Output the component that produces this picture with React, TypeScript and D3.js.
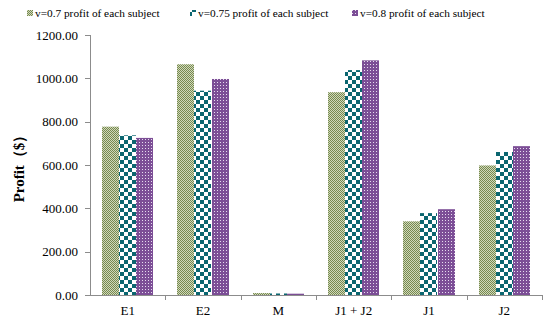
import React, { useEffect, useRef } from 'react';
import * as d3 from 'd3';

const categories = ['E1', 'E2', 'M', 'J1 + J2', 'J1', 'J2'];
const seriesNames = [
	'v=0.7 profit of each subject',
	'v=0.75 profit of each subject',
	'v=0.8 profit of each subject',
];
const v07 = [777, 1065, 9, 936, 340, 598];
const v075 = [737, 943, 7, 1038, 378, 660];
const v08 = [725, 997, 6, 1083, 396, 687];
const yTicks = [0, 200, 400, 600, 800, 1000, 1200];

const W = 550;
const H = 322;

export default function App() {
	const ref = useRef<SVGSVGElement>(null);

	useEffect(() => {
		const svg = d3.select(ref.current);
		svg.selectAll('*').remove();

		const font = 'Liberation Serif, Times New Roman, Times, serif';
		const left = 90, right = 542, top = 35, bottom = 295;

		const defs = svg.append('defs');

		// green fine checker
		const pg = defs.append('pattern').attr('id', 'pg').attr('patternUnits', 'userSpaceOnUse')
			.attr('width', 2).attr('height', 2);
		pg.append('rect').attr('width', 2).attr('height', 2).attr('fill', '#d0d8bb');
		pg.append('rect').attr('width', 1).attr('height', 1).attr('fill', '#77894f');
		pg.append('rect').attr('x', 1).attr('y', 1).attr('width', 1).attr('height', 1).attr('fill', '#77894f');

		// teal large checker
		const pt = defs.append('pattern').attr('id', 'pt').attr('patternUnits', 'userSpaceOnUse')
			.attr('width', 8).attr('height', 8);
		pt.append('rect').attr('width', 8).attr('height', 8).attr('fill', '#ffffff');
		pt.append('rect').attr('width', 4).attr('height', 4).attr('fill', '#0b6670');
		pt.append('rect').attr('x', 4).attr('y', 4).attr('width', 4).attr('height', 4).attr('fill', '#0b6670');

		// purple with white dots
		const pp = defs.append('pattern').attr('id', 'pp').attr('patternUnits', 'userSpaceOnUse')
			.attr('width', 3).attr('height', 3);
		pp.append('rect').attr('width', 3).attr('height', 3).attr('fill', '#7c4e96');
		pp.append('rect').attr('x', 1).attr('y', 1).attr('width', 1).attr('height', 1).attr('fill', '#e6dcef');

		const fills = ['url(#pg)', 'url(#pt)', 'url(#pp)'];
		const series = [v07, v075, v08];

		const x = d3.scaleBand().domain(categories).range([left, right]).paddingInner(0).paddingOuter(0);
		const inner = d3.scaleBand().domain(['0', '1', '2']).range([0, x.bandwidth()]).paddingInner(0).paddingOuter(0.7);
		const y = d3.scaleLinear().domain([0, 1200]).range([bottom, top]);

		// bars
		series.forEach((vals, si) => {
			svg.append('g')
				.selectAll('rect')
				.data(vals)
				.enter()
				.append('rect')
				.attr('x', (d, i) => Math.round((x(categories[i]) as number) + (inner(String(si)) as number)))
				.attr('y', d => y(d))
				.attr('width', Math.round(inner.bandwidth()))
				.attr('height', d => bottom - y(d))
				.attr('fill', fills[si]);
		});

		// y axis
		const axisColor = '#8c8c8c';
		svg.append('line').attr('x1', left + 0.5).attr('x2', left + 0.5).attr('y1', top).attr('y2', bottom)
			.attr('stroke', axisColor).attr('stroke-width', 1);
		svg.append('g').selectAll('line').data(yTicks).enter().append('line')
			.attr('x1', left - 5).attr('x2', left).attr('y1', d => Math.round(y(d)) + 0.5).attr('y2', d => Math.round(y(d)) + 0.5)
			.attr('stroke', axisColor);
		svg.append('g').selectAll('text').data(yTicks).enter().append('text')
			.text(d => d.toFixed(2))
			.attr('x', left - 12).attr('y', d => y(d) + 4.5)
			.attr('text-anchor', 'end')
			.attr('font-family', font).attr('font-size', '13px').attr('fill', '#000');

		// x axis
		svg.append('line').attr('x1', left - 5).attr('x2', right).attr('y1', bottom + 0.5).attr('y2', bottom + 0.5)
			.attr('stroke', axisColor);
		const bounds = categories.map(c => Math.round((x(c) as number) + x.bandwidth()) + 0.5);
		svg.append('g').selectAll('line').data(bounds).enter().append('line')
			.attr('x1', d => d).attr('x2', d => d).attr('y1', bottom).attr('y2', bottom + 5)
			.attr('stroke', axisColor);
		svg.append('g').selectAll('text').data(categories).enter().append('text')
			.text(d => d)
			.attr('x', d => (x(d) as number) + x.bandwidth() / 2).attr('y', bottom + 20)
			.attr('text-anchor', 'middle')
			.attr('font-family', font).attr('font-size', '13px').attr('fill', '#000');

		// y label
		svg.append('text')
			.text('Profit（$）')
			.attr('transform', `translate(24,${(top + bottom) / 2}) rotate(-90)`)
			.attr('text-anchor', 'middle')
			.attr('font-family', font).attr('font-size', '15px').attr('font-weight', 'bold').attr('fill', '#000');

		// legend
		const legendX = [27, 190, 352];
		seriesNames.forEach((name, i) => {
			svg.append('rect').attr('x', legendX[i]).attr('y', 10).attr('width', 6).attr('height', 6)
				.attr('fill', fills[i]).attr('stroke', 'none');
			svg.append('text').text(name)
				.attr('x', legendX[i] + 8).attr('y', 17)
				.attr('font-family', font).attr('font-size', '11.3px').attr('fill', '#000');
		});
	}, []);

	return <svg ref={ref} width={W} height={H} style={{ position: 'absolute', left: 0, top: 0, background: '#fff' }} />;
}
